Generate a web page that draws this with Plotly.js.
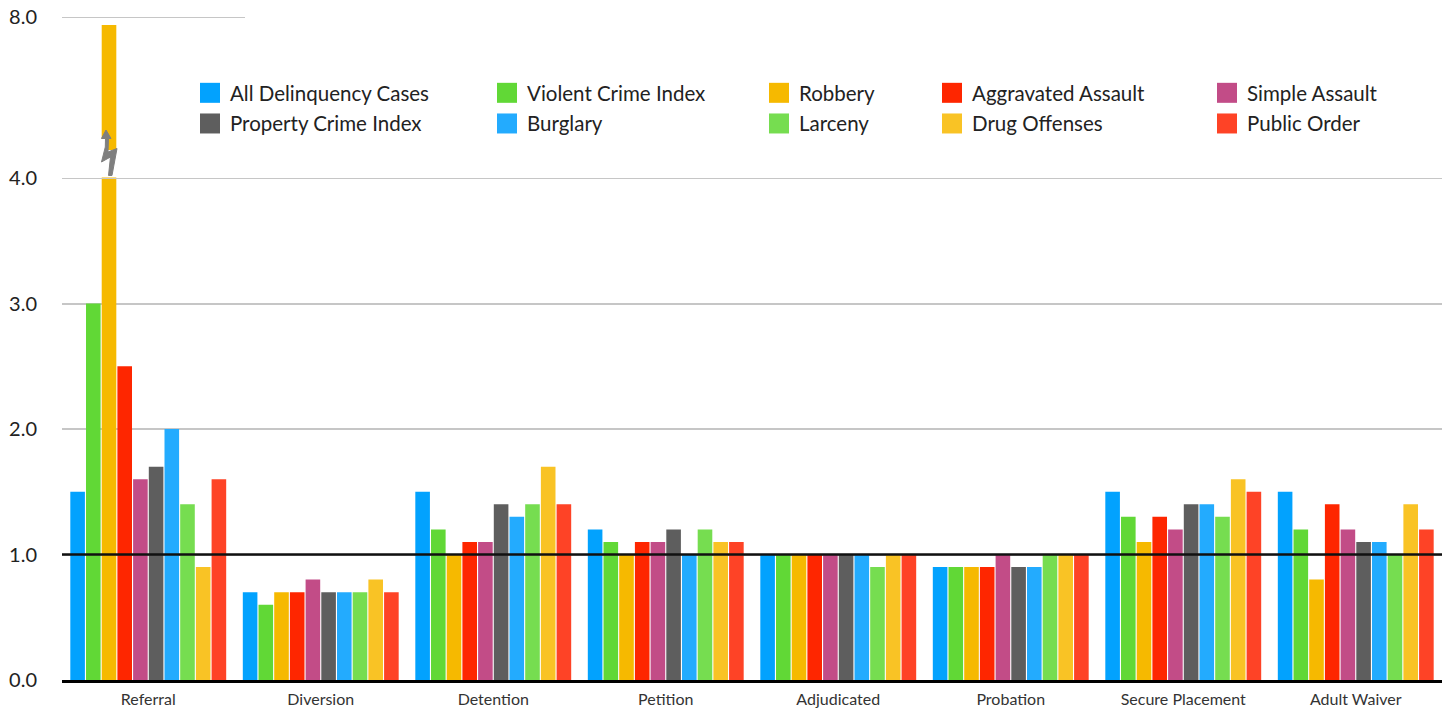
<!DOCTYPE html>
<html><head><meta charset="utf-8">
<script src="https://cdn.plot.ly/plotly-3.0.1.min.js"></script>
<style>
html,body{margin:0;padding:0;background:#fff}
#chart g.legendpoints path.legendbar{d:path("M10,10H-10V-10H10Z");}
</style>
</head><body>
<div id="chart" style="width:1450px;height:711px"></div>
<script>
// ---- data ----
const categories = ['Referral','Diversion','Detention','Petition','Adjudicated','Probation','Secure Placement','Adult Waiver'];
const seriesNames = ['All Delinquency Cases','Violent Crime Index','Robbery','Aggravated Assault','Simple Assault',
                     'Property Crime Index','Burglary','Larceny','Drug Offenses','Public Order'];
const allDelinquency    = [1.5, 0.7, 1.5, 1.2, 1.0, 0.9, 1.5, 1.5];
const violentCrime      = [3.0, 0.6, 1.2, 1.1, 1.0, 0.9, 1.3, 1.2];
const robbery           = [7.8, 0.7, 1.0, 1.0, 1.0, 0.9, 1.1, 0.8];
const aggravatedAssault = [2.5, 0.7, 1.1, 1.1, 1.0, 0.9, 1.3, 1.4];
const simpleAssault     = [1.6, 0.8, 1.1, 1.1, 1.0, 1.0, 1.2, 1.2];
const propertyCrime     = [1.7, 0.7, 1.4, 1.2, 1.0, 0.9, 1.4, 1.1];
const burglary          = [2.0, 0.7, 1.3, 1.0, 1.0, 0.9, 1.4, 1.1];
const larceny           = [1.4, 0.7, 1.4, 1.2, 0.9, 1.0, 1.3, 1.0];
const drugOffenses      = [0.9, 0.8, 1.7, 1.1, 1.0, 1.0, 1.6, 1.4];
const publicOrder       = [1.6, 0.7, 1.4, 1.1, 1.0, 1.0, 1.5, 1.2];
const seriesValues = [allDelinquency, violentCrime, robbery, aggravatedAssault, simpleAssault,
                      propertyCrime, burglary, larceny, drugOffenses, publicOrder];
const lowerTicks = [0, 1, 2, 3, 4];
const upperTicks = [8];

// ---- styles ----
const colors = ['#02A2FE','#61D836','#F6B900','#FE2600','#C24C87','#5E5E5E','#23ABFE','#76DD50','#F9C325','#FE4326'];
const FONT = 'Lato, "Open Sans", sans-serif';
const W = 1450, H = 711, L = 62, R = 8, T = 17, B = 31;
const plotW = W - L - R, plotH = H - T - B;
const splitPx = 178;                       // pixel row of the axis break (value 4)
const split = (H - B - splitPx) / plotH;
const px = v => (v - L) / plotW;
const py = v => (H - B - v) / plotH;
const legendLefts = [190, 487, 759, 932, 1207];

const traces = [];
['y', 'y2'].forEach((ax, k) => {
  seriesNames.forEach((name, i) => {
    traces.push({
      type: 'bar', name: name, x: categories, y: seriesValues[i],
      xaxis: 'x', yaxis: ax,
      marker: {color: colors[i]},
      legend: (i % 5 === 0) ? 'legend' : 'legend' + (i % 5 + 1),
      legendgroup: name,
      showlegend: k === 0,
      hovertemplate: '%{x}<br>' + name + ': %{y:.1f}<extra></extra>'
    });
  });
});

function pathFrom(pts) {
  return 'M' + pts.map(p => px(p[0]).toFixed(5) + ',' + py(p[1]).toFixed(5)).join('L') + 'Z';
}
const coverPts = [[100.5,138.5],[106,138.5],[106,150],[118,150],[118,177.5],[100.5,177.5]];
const boltPts  = [[106,130],[111,138.5],[108.5,138.5],[108,152],[117,148.5],[112,175.5],[108.5,175.5],
                  [110.5,157],[101.5,162],[105.3,147],[105.5,138.5],[101.5,138.5]];

const legendBase = {
  xanchor: 'left', yanchor: 'top', orientation: 'v',
  font: {family: FONT, size: 20.5, color: '#222'},
  bgcolor: 'rgba(0,0,0,0)', borderwidth: 0,
  tracegroupgap: 1, itemwidth: 30
};
const layout = {
  width: W, height: H,
  margin: {l: L, r: R, t: T, b: B, pad: 0},
  paper_bgcolor: '#fff', plot_bgcolor: '#fff',
  font: {family: FONT, color: '#222'},
  barmode: 'group', bargap: 0.09, bargroupgap: 0.07,
  xaxis: {
    type: 'category', anchor: 'y', domain: [0, 1],
    showgrid: false, zeroline: false, ticks: '',
    showline: true, linecolor: '#000', linewidth: 3,
    tickfont: {family: FONT, size: 16, color: '#333'},
    ticklabelstandoff: 3
  },
  yaxis: {
    domain: [0, split], range: [0, 4], anchor: 'x',
    tickvals: lowerTicks, tickformat: '.1f',
    showgrid: true, gridcolor: '#c6c6c6', gridwidth: 2,
    zeroline: false, showline: false, ticks: '',
    tickfont: {family: FONT, size: 20, color: '#222'},
    ticklabelstandoff: 24
  },
  yaxis2: {
    domain: [split, 1], range: [4, 8], anchor: 'x',
    tickvals: upperTicks, tickformat: '.1f',
    showgrid: false, zeroline: false, showline: false, ticks: '',
    tickfont: {family: FONT, size: 20, color: '#222'},
    ticklabelstandoff: 24
  },
  showlegend: true,
  shapes: [
    {type: 'line', xref: 'paper', yref: 'y', x0: 0, x1: 1, y0: 4, y1: 4, line: {color: '#c6c6c6', width: 2}, layer: 'below'},
    {type: 'line', xref: 'paper', yref: 'y2', x0: 0, x1: px(245), y0: 8, y1: 8, line: {color: '#c6c6c6', width: 2}, layer: 'below'},
    {type: 'line', xref: 'paper', yref: 'y', x0: 0, x1: 1, y0: 1, y1: 1, line: {color: '#111', width: 2.5}, layer: 'above'},
    {type: 'path', xref: 'paper', yref: 'paper', path: pathFrom(coverPts), fillcolor: '#fff', line: {width: 0}, layer: 'above'},
    {type: 'line', xref: 'paper', yref: 'y', x0: px(99), x1: px(118), y0: 4, y1: 4, line: {color: '#c6c6c6', width: 2}, layer: 'above'},
    {type: 'path', xref: 'paper', yref: 'paper', path: pathFrom(boltPts), fillcolor: '#7f7f7f', line: {color: '#7f7f7f', width: 1}, layer: 'above'}
  ]
};
legendLefts.forEach((lx, j) => {
  const key = j === 0 ? 'legend' : 'legend' + (j + 1);
  layout[key] = Object.assign({}, legendBase, {x: px(lx), y: py(73)});
});

function enlargeLegendSymbols() {
  document.querySelectorAll('#chart g.legendpoints path').forEach(p => {
    const d = (p.getAttribute('d') || '').replace(/\s/g, '');
    if (p.classList.contains('legendbar') || d === 'M6,6H-6V-6H6Z') {
      p.setAttribute('d', 'M10,10H-10V-10H10Z');
    }
  });
}
Plotly.newPlot('chart', traces, layout, {displayModeBar: false, responsive: false}).then(gd => {
  enlargeLegendSymbols();
  gd.on('plotly_afterplot', enlargeLegendSymbols);
  setTimeout(enlargeLegendSymbols, 0);
  setTimeout(enlargeLegendSymbols, 200);
});
</script>
</body></html>
